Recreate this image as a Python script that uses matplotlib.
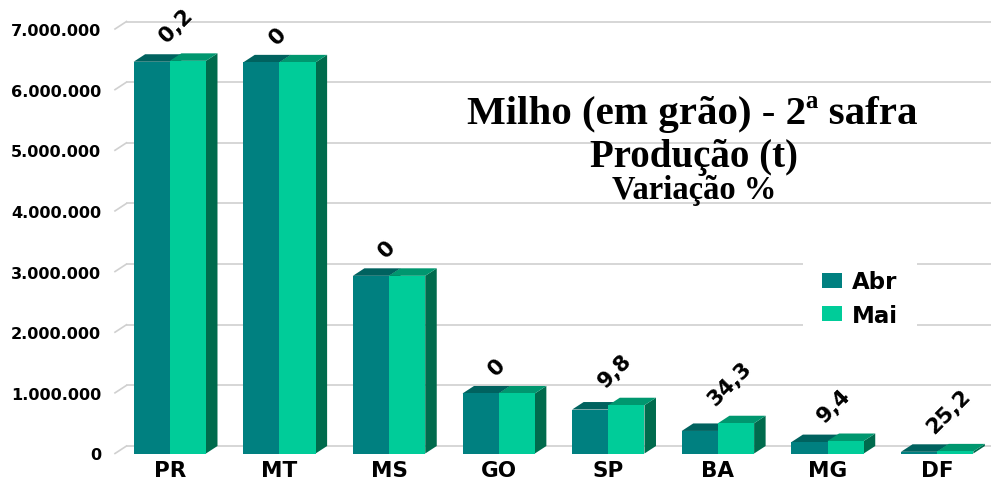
import matplotlib
matplotlib.use("Agg")
import matplotlib.pyplot as plt
from matplotlib.patches import Polygon, Patch
from matplotlib.ticker import FuncFormatter

# ---- data ----
categories = ["PR", "MT", "MS", "GO", "SP", "BA", "MG", "DF"]
abr = [6460000, 6450000, 2930000, 990000, 725000, 372000, 188000, 28000]
mai = [6475000, 6450000, 2930000, 990000, 796000, 499000, 206000, 35000]
variacao = ["0,2", "0", "0", "0", "9,8", "34,3", "9,4", "25,2"]
series_names = ["Abr", "Mai"]
yticks = [0, 1000000, 2000000, 3000000, 4000000, 5000000, 6000000, 7000000]

# ---- style ----
W, H, DPI = 991, 481, 100
c_abr_front, c_abr_top = "#008080", "#00625f"
c_mai_front, c_mai_top = "#00cc99", "#00976f"
c_side = "#006b4d"
grid_c = "#d0d0d0"

fig = plt.figure(figsize=(W / DPI, H / DPI), dpi=DPI)
ax_left, ax_right = 115, 992
y0_px, y7_px = 454.5, 30.0
ax = fig.add_axes([ax_left / W, (H - y0_px) / H, (ax_right - ax_left) / W, (y0_px - y7_px) / H])
ax.set_xlim(-0.5, len(categories) - 0.5)
ax.set_ylim(0, 7000000)
for s in ax.spines.values():
    s.set_visible(False)
ax.set_facecolor("none")

# depth offsets (pixels -> data units)
px_per_x = (ax_right - ax_left) / len(categories)
px_per_y = (y0_px - y7_px) / 7000000
ddx = 11.5 / px_per_x
ddy = 7.5 / px_per_y

# back-wall gridlines and left floor edges
xl = -0.5
for v in yticks:
    ax.plot([xl, xl + ddx], [v, v + ddy], color=grid_c, lw=1.2, clip_on=False, zorder=0)
    ax.plot([xl + ddx, len(categories) - 0.5 + 0.2], [v + ddy, v + ddy], color=grid_c, lw=1.2,
            clip_on=False, zorder=0)

bw = 0.33
def bar3d(x0, h, front, top):
    x1 = x0 + bw
    ax.add_patch(Polygon([(x1, 0), (x1 + ddx, ddy), (x1 + ddx, h + ddy), (x1, h)],
                         closed=True, facecolor=c_side, edgecolor="none", clip_on=False, zorder=2))
    ax.add_patch(Polygon([(x0, h), (x1, h), (x1 + ddx, h + ddy), (x0 + ddx, h + ddy)],
                         closed=True, facecolor=top, edgecolor="none", clip_on=False, zorder=2))
    ax.bar(x0, h, width=bw, align="edge", color=front, edgecolor="none", zorder=3, clip_on=False)

for i in range(len(categories)):
    bar3d(i - bw, abr[i], c_abr_front, c_abr_top)
    bar3d(i, mai[i], c_mai_front, c_mai_top)

# data labels (variation %)
for i, lab in enumerate(variacao):
    top = max(abr[i], mai[i])
    ax.annotate(lab, xy=(i, top), xytext=(0, 15), textcoords="offset pixels",
                rotation=45, rotation_mode="anchor", ha="left", va="bottom",
                fontsize=15.5, fontweight="bold", color="black", zorder=5)

# axes ticks
ax.set_yticks(yticks)
ax.yaxis.set_major_formatter(FuncFormatter(lambda v, p: f"{int(v):,}".replace(",", ".")))
ax.tick_params(axis="y", length=0, pad=10, labelsize=11.6)
for t in ax.get_yticklabels():
    t.set_fontweight("bold")
ax.set_xticks(range(len(categories)))
ax.set_xticklabels(categories, fontsize=15.5, fontweight="bold")
ax.tick_params(axis="x", length=0, pad=5)

# title
fig.text(692.5 / W, 1 - 124 / H, "Milho (em grão) - 2ª safra", ha="center", va="baseline",
         family="Liberation Serif", fontweight="bold", fontsize=29.5)
fig.text(694 / W, 1 - 167 / H, "Produção (t)", ha="center", va="baseline",
         family="Liberation Serif", fontweight="bold", fontsize=28)
fig.text(694 / W, 1 - 199 / H, "Variação %", ha="center", va="baseline",
         family="Liberation Serif", fontweight="bold", fontsize=23.5)

# legend
handles = [Patch(facecolor=c_abr_front, edgecolor="none"),
           Patch(facecolor=c_mai_front, edgecolor="none")]
leg = fig.legend(handles, series_names, loc="upper left", bbox_to_anchor=(803 / W, 1 - 252 / H),
                 frameon=True, fancybox=False, borderpad=0.85, handlelength=0.87, handleheight=0.63,
                 handletextpad=0.4, labelspacing=0.46, borderaxespad=0,
                 prop={"weight": "bold", "size": 16.5})
leg.get_frame().set_facecolor("white")
leg.get_frame().set_edgecolor("none")
leg.get_frame().set_alpha(1)

fig.savefig("out.png", dpi=DPI, facecolor="white")
